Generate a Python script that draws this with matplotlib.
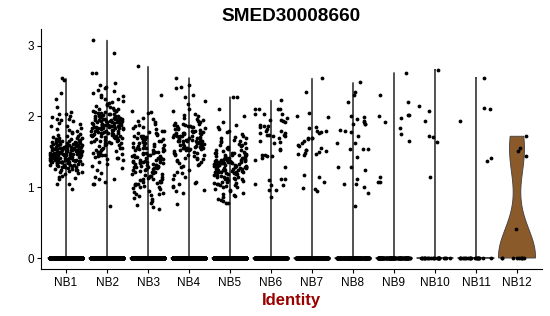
import numpy as np
import matplotlib
matplotlib.use("Agg")
import matplotlib.pyplot as plt

plt.rcParams["font.family"] = ["Liberation Sans", "DejaVu Sans"]

title = "SMED30008660"
idents = ["NB1", "NB2", "NB3", "NB4", "NB5", "NB6",
          "NB7", "NB8", "NB9", "NB10", "NB11", "NB12"]

# cells with zero expression per identity (estimated from the dense rows)
zero_counts = [1200, 1100, 900, 800, 800, 300, 250, 200, 120, 25, 22, 9]

# non-zero expression values
nb1 = [2.54, 2.51, 2.33, 2.25, 2.13, 2.06, 2.04, 2.03, 2.01, 1.99, 1.97, 1.96, 1.95, 1.93, 1.91,
       1.89, 1.87, 1.86, 1.84, 1.82, 1.81, 1.79, 1.78, 1.76, 1.75, 1.74, 1.73, 1.72, 1.71, 1.70,
       1.69, 1.69, 1.68, 1.68, 1.67, 1.66, 1.66, 1.65, 1.65, 1.64, 1.64, 1.63, 1.63, 1.62, 1.62,
       1.61, 1.61, 1.60, 1.60, 1.60, 1.68, 1.66, 1.63, 1.61,
       1.59, 1.59, 1.58, 1.58, 1.58, 1.57, 1.57, 1.57, 1.56, 1.56, 1.56, 1.55, 1.55, 1.55, 1.55,
       1.54, 1.54, 1.54, 1.53, 1.53, 1.53, 1.53, 1.52, 1.52, 1.52, 1.51, 1.51, 1.51, 1.50, 1.50,
       1.50, 1.50, 1.57, 1.54, 1.52, 1.56, 1.59, 1.53, 1.51, 1.55,
       1.49, 1.49, 1.49, 1.48, 1.48, 1.48, 1.48, 1.47, 1.47, 1.47, 1.47, 1.46, 1.46, 1.46, 1.46,
       1.45, 1.45, 1.45, 1.45, 1.45, 1.44, 1.44, 1.44, 1.44, 1.43, 1.43, 1.43, 1.43, 1.42, 1.42,
       1.42, 1.42, 1.41, 1.41, 1.41, 1.40, 1.40, 1.40, 1.46, 1.44, 1.48, 1.42, 1.47, 1.45, 1.43,
       1.39, 1.39, 1.39, 1.38, 1.38, 1.38, 1.37, 1.37, 1.37, 1.36, 1.36, 1.36, 1.35, 1.35, 1.35,
       1.34, 1.34, 1.33, 1.33, 1.32, 1.32, 1.31, 1.31, 1.30, 1.30, 1.38, 1.36, 1.34, 1.32, 1.35,
       1.29, 1.28, 1.27, 1.26, 1.25, 1.24, 1.23, 1.22, 1.21, 1.20, 1.28, 1.26, 1.24,
       1.18, 1.16, 1.15, 1.13, 1.11, 1.05, 1.04, 0.98]
nb2 = [3.08, 2.89, 2.62, 2.61, 2.47, 2.44, 2.42, 2.40, 2.38, 2.36, 2.33, 2.31, 2.29, 2.27, 2.25,
       2.24, 2.22, 2.21, 2.19, 2.17, 2.16, 2.15, 2.14, 2.12, 2.11, 2.10,
       2.09, 2.08, 2.07, 2.06, 2.05, 2.05, 2.04, 2.03, 2.02, 2.02, 2.01, 2.00, 2.00, 2.08, 2.04,
       2.06, 2.01, 2.03,
       1.99, 1.99, 1.98, 1.98, 1.97, 1.97, 1.96, 1.96, 1.95, 1.95, 1.95, 1.94, 1.94, 1.93, 1.93,
       1.93, 1.92, 1.92, 1.92, 1.91, 1.91, 1.91, 1.90, 1.90, 1.90, 1.96, 1.94, 1.92, 1.98, 1.97,
       1.89, 1.89, 1.88, 1.88, 1.88, 1.87, 1.87, 1.87, 1.86, 1.86, 1.86, 1.85, 1.85, 1.85, 1.84,
       1.84, 1.84, 1.83, 1.83, 1.83, 1.82, 1.82, 1.81, 1.81, 1.80, 1.80, 1.86, 1.84, 1.88, 1.82,
       1.79, 1.79, 1.78, 1.78, 1.77, 1.77, 1.76, 1.76, 1.75, 1.75, 1.74, 1.74, 1.73, 1.73, 1.72,
       1.72, 1.71, 1.71, 1.70, 1.70, 1.76, 1.74,
       1.69, 1.68, 1.67, 1.66, 1.65, 1.64, 1.63, 1.62, 1.61, 1.60, 1.67, 1.64, 1.62, 1.66,
       1.59, 1.58, 1.56, 1.55, 1.54, 1.53, 1.52, 1.51, 1.50, 1.49, 1.48, 1.47, 1.46, 1.45, 1.44,
       1.43, 1.42, 1.41, 1.40, 1.55, 1.50, 1.45,
       1.38, 1.36, 1.33, 1.30, 1.27, 1.25, 1.20, 1.15, 1.12, 1.12, 1.08, 1.05, 1.04, 0.73]
nb3 = [2.71, 2.31, 2.07, 2.06, 2.05, 1.98, 1.96, 1.94, 1.92, 1.90, 1.88, 1.87, 1.85, 1.84, 1.82,
       1.80,
       1.79, 1.78, 1.76, 1.75, 1.74, 1.73, 1.72, 1.71, 1.70, 1.69, 1.68, 1.67, 1.66, 1.65, 1.64,
       1.63, 1.62, 1.61, 1.60, 1.77, 1.73, 1.68, 1.65, 1.62,
       1.59, 1.58, 1.57, 1.56, 1.55, 1.54, 1.53, 1.52, 1.51, 1.50, 1.49, 1.48, 1.47, 1.46, 1.45,
       1.44, 1.43, 1.42, 1.41, 1.40, 1.58, 1.55, 1.52, 1.49, 1.46, 1.43, 1.41, 1.56, 1.50, 1.44,
       1.39, 1.38, 1.38, 1.37, 1.36, 1.36, 1.35, 1.35, 1.34, 1.33, 1.33, 1.32, 1.31, 1.31, 1.30,
       1.29, 1.29, 1.28, 1.27, 1.27, 1.26, 1.25, 1.24, 1.23, 1.22, 1.21, 1.20, 1.37, 1.34, 1.30,
       1.26, 1.22, 1.35, 1.28,
       1.19, 1.18, 1.17, 1.16, 1.15, 1.14, 1.13, 1.12, 1.11, 1.10, 1.09, 1.08, 1.07, 1.06, 1.05,
       1.04, 1.03, 1.02, 1.01, 1.00, 1.16, 1.12, 1.08, 1.04,
       0.99, 0.97, 0.95, 0.93, 0.92, 0.90, 0.90, 0.89, 0.87, 0.85, 0.83, 0.80, 0.78, 0.75, 0.72,
       0.69]
nb4 = [2.55, 2.44, 2.42, 2.40, 2.30, 2.27, 2.22, 2.18, 2.11, 2.07, 2.04, 2.02, 2.00, 1.98, 1.96,
       1.95, 1.93, 1.92, 1.91, 1.90,
       1.89, 1.88, 1.87, 1.86, 1.85, 1.84, 1.83, 1.82, 1.81, 1.80, 1.88, 1.85, 1.82, 1.86,
       1.79, 1.78, 1.77, 1.77, 1.76, 1.75, 1.75, 1.74, 1.73, 1.73, 1.72, 1.71, 1.71, 1.70, 1.78,
       1.76, 1.74, 1.72,
       1.69, 1.69, 1.68, 1.68, 1.67, 1.67, 1.66, 1.66, 1.65, 1.65, 1.64, 1.64, 1.63, 1.63, 1.62,
       1.62, 1.61, 1.61, 1.60, 1.60, 1.67, 1.65, 1.63, 1.66,
       1.59, 1.58, 1.57, 1.56, 1.55, 1.54, 1.53, 1.52, 1.51, 1.50, 1.58, 1.56, 1.54, 1.52, 1.55,
       1.57,
       1.49, 1.48, 1.47, 1.46, 1.45, 1.44, 1.42, 1.41, 1.40, 1.38, 1.37, 1.36, 1.34, 1.33, 1.31,
       1.30, 1.45, 1.40,
       1.28, 1.25, 1.22, 1.20, 1.17, 1.14, 1.11, 1.08, 1.06, 1.05, 1.02, 1.00, 0.96, 0.95, 0.92,
       0.77]
nb5 = [2.28, 2.27, 2.11, 2.01, 1.92, 1.88, 1.85, 1.82, 1.80, 1.78, 1.75, 1.73, 1.71, 1.70,
       1.69, 1.67, 1.66, 1.64, 1.62, 1.61, 1.60, 1.58, 1.57, 1.55, 1.54, 1.53, 1.52, 1.51, 1.50,
       1.65, 1.59, 1.56,
       1.49, 1.48, 1.48, 1.47, 1.46, 1.46, 1.45, 1.44, 1.44, 1.43, 1.42, 1.42, 1.41, 1.40, 1.40,
       1.47, 1.45, 1.43, 1.41, 1.49,
       1.39, 1.39, 1.38, 1.38, 1.37, 1.37, 1.36, 1.36, 1.35, 1.35, 1.35, 1.34, 1.34, 1.33, 1.33,
       1.32, 1.32, 1.31, 1.31, 1.30, 1.30, 1.30, 1.36, 1.34, 1.38, 1.32, 1.37, 1.33,
       1.29, 1.29, 1.28, 1.28, 1.27, 1.27, 1.26, 1.26, 1.25, 1.25, 1.25, 1.24, 1.24, 1.23, 1.23,
       1.22, 1.22, 1.21, 1.21, 1.20, 1.20, 1.27, 1.24, 1.22, 1.26, 1.28,
       1.19, 1.18, 1.17, 1.16, 1.15, 1.14, 1.13, 1.12, 1.11, 1.10, 1.17, 1.15, 1.13, 1.11, 1.18,
       1.09, 1.08, 1.07, 1.06, 1.05, 1.04, 1.03, 1.02, 1.01, 1.00, 1.06, 1.03,
       0.98, 0.96, 0.94, 0.92, 0.90, 0.89, 0.88, 0.86, 0.84, 0.82, 0.80, 0.78, 0.78]
nb6 = [2.23, 2.11, 2.11, 2.10, 2.10, 2.03, 2.03, 2.03, 1.98, 1.95, 1.95, 1.94, 1.92, 1.88, 1.87,
       1.86, 1.85, 1.82, 1.80, 1.79, 1.76, 1.76, 1.74, 1.74, 1.74, 1.73, 1.72, 1.69, 1.66, 1.64,
       1.63, 1.54, 1.53, 1.46, 1.45, 1.44, 1.44, 1.41, 1.38, 1.29, 1.11, 1.11, 1.10, 1.05, 1.03,
       1.03, 0.96, 0.96, 0.86]
nb7 = [2.54, 2.34, 2.05, 1.99, 2.00, 1.85, 1.83, 1.80, 1.79, 1.78, 1.77, 1.70, 1.69, 1.69, 1.68,
       1.66, 1.63, 1.60, 1.58, 1.55, 1.52, 1.52, 1.51, 1.50, 1.48, 1.47, 1.47, 1.46, 1.17, 1.15,
       1.08, 0.99, 0.98, 0.94]
nb8 = [2.48, 2.34, 2.31, 2.20, 2.00, 1.99, 1.96, 1.93, 1.92, 1.90, 1.90, 1.90, 1.81, 1.79, 1.78,
       1.72, 1.62, 1.62, 1.54, 1.54, 1.54, 1.43, 1.28, 1.28, 1.24, 1.11, 1.04, 1.04, 1.01, 0.92,
       0.73]
nb9 = [2.62, 2.30, 2.21, 2.02, 2.02, 2.00, 1.98, 1.92, 1.83, 1.75, 1.66, 1.15, 1.08, 1.08]
nb10 = [2.66, 2.15, 2.07, 1.93, 1.72, 1.71, 1.64, 1.15]
nb11 = [2.55, 2.12, 2.10, 1.93, 1.41, 1.37]
nb12 = [1.72, 1.55, 1.51, 1.44, 0.41]
nonzero = [nb1, nb2, nb3, nb4, nb5, nb6, nb7, nb8, nb9, nb10, nb11, nb12]

fills = ["#F8766D", "#DE8C00", "#B79F00", "#7CAE00", "#00BA38", "#00C08B",
         "#00BFC4", "#00B4F0", "#619CFF", "#C77CFF", "#F564E3", "#8B5A2B"]


def bw_nrd0(v):
    hi = np.std(v, ddof=1)
    q1, q3 = np.percentile(v, [25, 75])
    lo = min(hi, (q3 - q1) / 1.34)
    if lo == 0:
        lo = 1e-5
    return 0.9 * lo * len(v) ** -0.2


def violin(ax, pos, v, color, width=0.9):
    v = np.asarray(v)
    grid = np.linspace(v.min(), v.max(), 512)
    bw = bw_nrd0(v)
    dens = np.exp(-0.5 * ((grid[:, None] - v[None, :]) / bw) ** 2).sum(axis=1)
    half = dens / dens.max() * width / 2
    xs = np.concatenate([pos - half, (pos + half)[::-1]])
    ys = np.concatenate([grid, grid[::-1]])
    ax.fill(xs, ys, facecolor=color, edgecolor="#444444", lw=0.65, zorder=1)


fig = plt.figure(figsize=(5.5, 3.16), dpi=100)
ax = fig.add_axes([0.0753, 0.149, 0.9094, 0.7589])

rng = np.random.default_rng(3)
all_vals = []
for i, (nz, n0) in enumerate(zip(nonzero, zero_counts)):
    vals = np.concatenate([np.zeros(n0), np.asarray(nz)])
    rng.shuffle(vals)
    all_vals.append(vals)
    violin(ax, i + 1, vals, fills[i])

for i, vals in enumerate(all_vals):
    jit = rng.uniform(-0.4, 0.4, len(vals))
    ax.scatter(i + 1 + jit, vals, s=7.5, color="black", linewidths=0, zorder=2)

ymax = max(v.max() for v in all_vals)
ax.set_xlim(0.4, len(idents) + 0.6)
ax.set_ylim(-0.05 * ymax, ymax * 1.05)
ax.set_xticks(range(1, len(idents) + 1))
ax.set_xticklabels(idents)
ax.set_yticks([0, 1, 2, 3])

for s in ["top", "right"]:
    ax.spines[s].set_visible(False)
for s in ["left", "bottom"]:
    ax.spines[s].set_linewidth(0.8)
ax.tick_params(direction="out", length=3, width=0.8, labelsize=8.5, pad=2.5, colors="black")

ax.set_title(title, fontsize=13.7, fontweight="bold", pad=5.5)
ax.set_xlabel("Identity", fontsize=12, fontweight="bold", color="#990000", labelpad=3.5)

fig.savefig("out.png", dpi=100)
